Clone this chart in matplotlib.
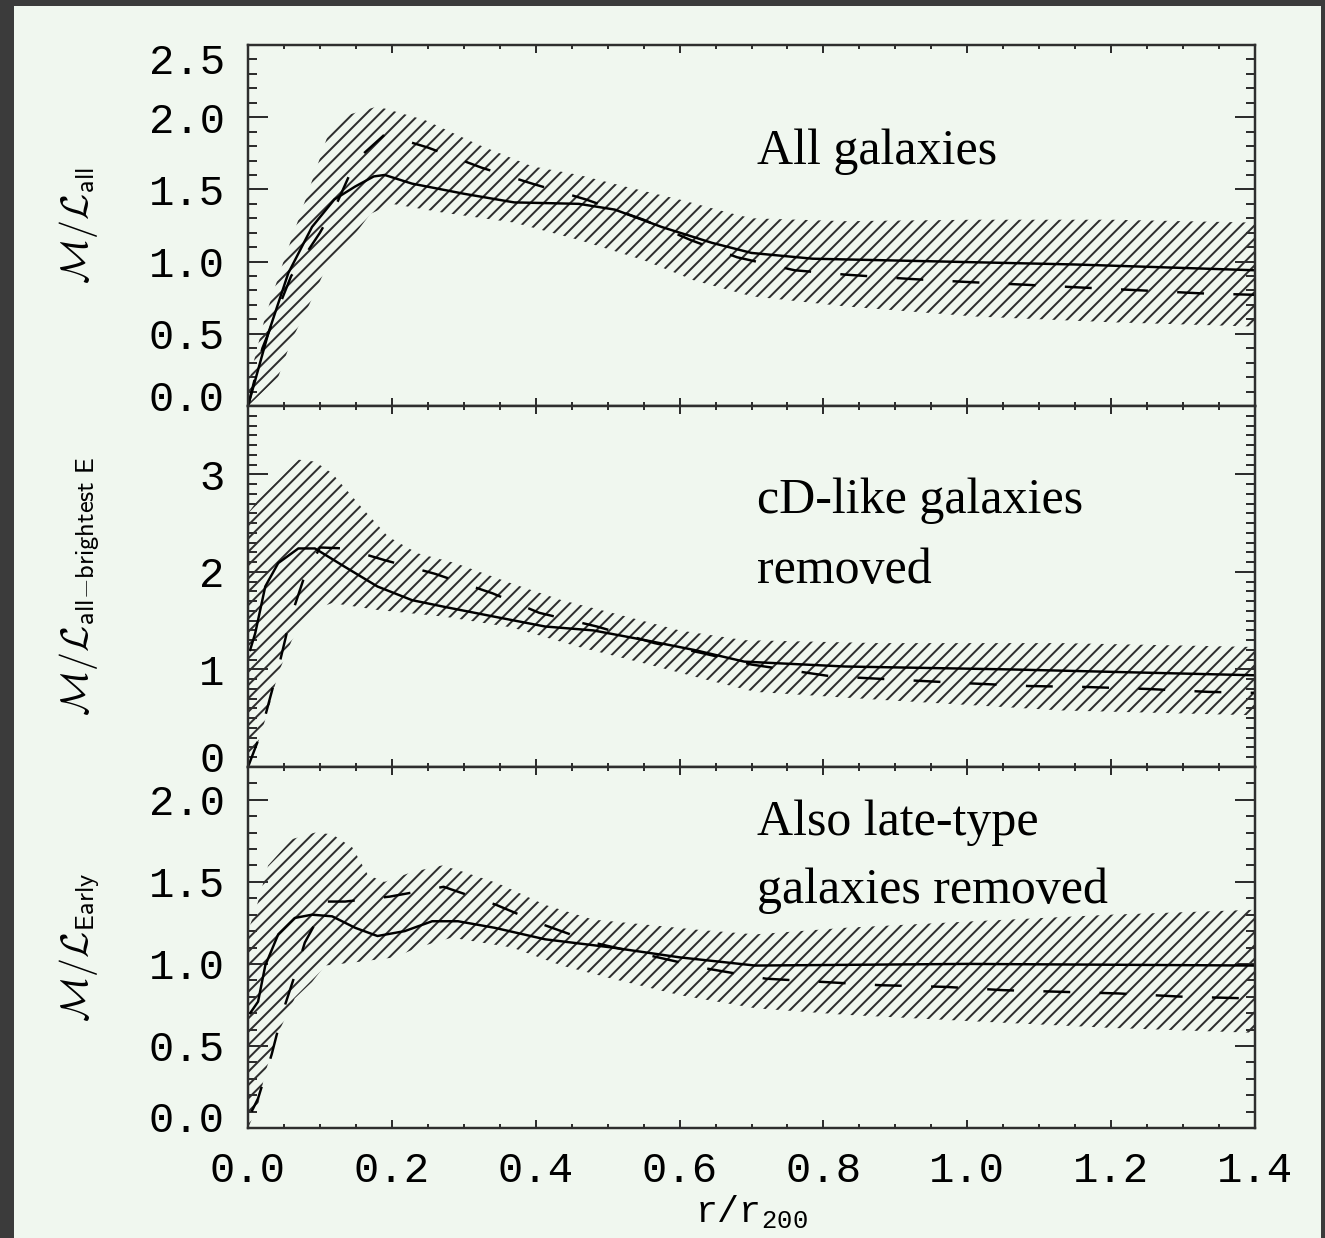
import numpy as np
import matplotlib.pyplot as plt
from matplotlib.patches import Rectangle
from matplotlib.ticker import MultipleLocator, FormatStrFormatter
from matplotlib.transforms import ScaledTranslation

# ---- panel 1: all galaxies ----
r_all_line = [0.0, 0.028, 0.056, 0.089, 0.12, 0.149, 0.175, 0.19, 0.228, 0.30, 0.37, 0.46,
              0.51, 0.575, 0.645, 0.70, 0.785, 0.97, 1.15, 1.4]
ml_all_line = [0.0, 0.50, 0.92, 1.24, 1.43, 1.52, 1.59, 1.60, 1.54, 1.47, 1.41, 1.40,
               1.36, 1.24, 1.13, 1.06, 1.02, 1.00, 0.98, 0.94]
r_all_bin = [0.0, 0.02, 0.06, 0.10, 0.125, 0.15, 0.19, 0.25, 0.325, 0.395, 0.47, 0.55,
             0.615, 0.68, 0.76, 0.83, 0.92, 0.995, 1.08, 1.16, 1.245, 1.325, 1.4]
ml_all_bin = [0.0, 0.40, 0.90, 1.20, 1.42, 1.70, 1.88, 1.79, 1.65, 1.54, 1.43, 1.29,
              1.15, 1.03, 0.94, 0.91, 0.88, 0.86, 0.84, 0.82, 0.80, 0.78, 0.77]
r_all_hi = [0.0, 0.024, 0.05, 0.08, 0.11, 0.135, 0.177, 0.19, 0.246, 0.32, 0.395, 0.46,
            0.524, 0.60, 0.667, 0.70, 0.83, 1.01, 1.2, 1.4]
ml_all_hi = [0.15, 0.62, 1.01, 1.43, 1.86, 2.01, 2.07, 2.06, 1.98, 1.81, 1.66, 1.60,
             1.52, 1.43, 1.34, 1.30, 1.28, 1.29, 1.29, 1.27]
r_all_lo = [0.0, 0.042, 0.06, 0.084, 0.107, 0.135, 0.17, 0.2, 0.27, 0.37, 0.46, 0.55,
            0.62, 0.70, 0.83, 1.01, 1.2, 1.4]
ml_all_lo = [0.0, 0.20, 0.45, 0.69, 0.94, 1.10, 1.33, 1.40, 1.34, 1.27, 1.15, 1.01,
             0.87, 0.76, 0.69, 0.62, 0.58, 0.55]

# ---- panel 2: cD-like galaxies removed ----
r_cd_line = [0.003, 0.01, 0.024, 0.042, 0.07, 0.093, 0.135, 0.18, 0.228, 0.274, 0.343,
             0.413, 0.48, 0.552, 0.62, 0.69, 0.83, 1.06, 1.4]
ml_cd_line = [1.20, 1.37, 1.85, 2.09, 2.24, 2.24, 2.05, 1.85, 1.71, 1.64, 1.54,
              1.44, 1.40, 1.30, 1.20, 1.08, 1.03, 1.00, 0.94]
r_cd_bin = [0.0, 0.017, 0.03, 0.045, 0.058, 0.077, 0.10, 0.135, 0.19, 0.26, 0.34, 0.405,
            0.485, 0.565, 0.63, 0.70, 0.81, 0.915, 0.995, 1.085, 1.165, 1.25, 1.335, 1.4]
ml_cd_bin = [0.0, 0.33, 0.69, 1.10, 1.50, 1.92, 2.25, 2.24, 2.12, 1.98, 1.78, 1.58,
             1.44, 1.27, 1.17, 1.05, 0.93, 0.89, 0.86, 0.83, 0.82, 0.80, 0.77, 0.76]
r_cd_hi = [0.0, 0.014, 0.042, 0.07, 0.093, 0.117, 0.158, 0.195, 0.236, 0.288, 0.367,
           0.436, 0.506, 0.60, 0.69, 0.876, 1.13, 1.4]
ml_cd_hi = [2.60, 2.74, 2.94, 3.15, 3.13, 3.01, 2.66, 2.36, 2.19, 2.09, 1.88,
            1.71, 1.58, 1.40, 1.30, 1.27, 1.27, 1.23]
r_cd_lo = [0.0, 0.014, 0.028, 0.042, 0.061, 0.089, 0.117, 0.18, 0.274, 0.367, 0.46,
           0.552, 0.645, 0.705, 0.876, 1.13, 1.4]
ml_cd_lo = [0.05, 0.25, 0.58, 0.96, 1.30, 1.61, 1.68, 1.61, 1.54, 1.43, 1.23,
            1.06, 0.88, 0.77, 0.69, 0.58, 0.53]

# ---- panel 3: also late-type galaxies removed ----
r_early_line = [0.003, 0.014, 0.024, 0.042, 0.065, 0.089, 0.117, 0.149, 0.18, 0.218,
                0.256, 0.292, 0.343, 0.413, 0.506, 0.60, 0.705, 1.0, 1.4]
ml_early_line = [0.70, 0.77, 0.99, 1.18, 1.28, 1.30, 1.29, 1.22, 1.17, 1.20,
                 1.26, 1.26, 1.22, 1.15, 1.10, 1.04, 0.99, 1.00, 0.99]
r_early_bin = [0.005, 0.014, 0.033, 0.047, 0.065, 0.079, 0.11, 0.135, 0.197, 0.272, 0.345,
               0.41, 0.48, 0.56, 0.64, 0.72, 0.80, 0.88, 0.97, 1.05, 1.13, 1.21, 1.30, 1.39]
ml_early_bin = [0.10, 0.18, 0.45, 0.69, 0.93, 1.13, 1.38, 1.38, 1.41, 1.47, 1.36,
                1.24, 1.13, 1.05, 0.97, 0.91, 0.89, 0.87, 0.86, 0.84, 0.83, 0.82, 0.80, 0.79]
r_early_hi = [0.0, 0.012, 0.028, 0.061, 0.093, 0.117, 0.145, 0.167, 0.19, 0.228, 0.27,
              0.30, 0.348, 0.413, 0.48, 0.552, 0.62, 0.705, 0.83, 1.01, 1.2, 1.4]
ml_early_hi = [1.20, 1.35, 1.60, 1.76, 1.80, 1.79, 1.71, 1.54, 1.50, 1.56, 1.60,
               1.56, 1.49, 1.36, 1.27, 1.24, 1.21, 1.18, 1.22, 1.26, 1.30, 1.33]
r_early_lo = [0.0, 0.014, 0.024, 0.042, 0.065, 0.089, 0.107, 0.149, 0.204, 0.236, 0.283,
              0.367, 0.436, 0.506, 0.60, 0.705, 0.83, 1.01, 1.2, 1.4]
ml_early_lo = [0.0, 0.14, 0.34, 0.58, 0.79, 0.89, 0.99, 1.01, 1.04, 1.10, 1.16,
               1.10, 0.99, 0.91, 0.81, 0.73, 0.69, 0.65, 0.61, 0.58]

ylabels = [r'$\mathcal{M}/\mathcal{L}_{\mathsf{all}}$',
           r'$\mathcal{M}/\mathcal{L}_{\mathsf{all{-}brightest\ E}}$',
           r'$\mathcal{M}/\mathcal{L}_{\mathsf{Early}}$']
notes = [['All galaxies'],
         ['cD-like galaxies', 'removed'],
         ['Also late-type', 'galaxies removed']]
note_y = [[1.676], [2.60, 1.885], [1.787, 1.372]]
ylims = [(0, 2.5), (0, 3.7), (0, 2.2)]
yticks = [[0, 0.5, 1.0, 1.5, 2.0, 2.5], [0, 1, 2, 3], [0, 0.5, 1.0, 1.5, 2.0]]
yfmt = ['%.1f', '%d', '%.1f']
xticks = [0.0, 0.2, 0.4, 0.6, 0.8, 1.0, 1.2, 1.4]

panels = [
    (r_all_line, ml_all_line, r_all_bin, ml_all_bin, r_all_hi, ml_all_hi, r_all_lo, ml_all_lo),
    (r_cd_line, ml_cd_line, r_cd_bin, ml_cd_bin, r_cd_hi, ml_cd_hi, r_cd_lo, ml_cd_lo),
    (r_early_line, ml_early_line, r_early_bin, ml_early_bin, r_early_hi, ml_early_hi,
     r_early_lo, ml_early_lo),
]

DPI = 80
bg = '#f0f7ef'
ink = '#2e2e2e'
plt.rcParams['hatch.linewidth'] = 1.8
plt.rcParams['mathtext.tt'] = 'Liberation Mono'

fig, axes = plt.subplots(3, 1, sharex=True, figsize=(1325 / DPI, 1238 / DPI), dpi=DPI,
                         facecolor='#3b3b3b')
fig.subplots_adjust(left=248 / 1325, right=1255 / 1325, bottom=1 - 1128 / 1238,
                    top=1 - 45 / 1238, hspace=0)
fig.add_artist(Rectangle((14 / 1325, 0), 1307 / 1325, 1232 / 1238, transform=fig.transFigure,
                         facecolor=bg, edgecolor='none', zorder=-10))

for i, ax in enumerate(axes):
    r_line, ml_line, r_bin, ml_bin, r_hi, ml_hi, r_lo, ml_lo = panels[i]
    ax.set_facecolor(bg)

    # hatched error band
    band_x = np.concatenate([r_hi, r_lo[::-1]])
    band_y = np.concatenate([ml_hi, ml_lo[::-1]])
    ax.fill(band_x, band_y, facecolor='none', edgecolor=ink, hatch='//', linewidth=0)

    ax.plot(r_line, ml_line, color='black', lw=2.2)
    ax.plot(r_bin, ml_bin, color='black', lw=2.2, linestyle=(0, (11, 12)))

    for s, yy in zip(notes[i], note_y[i]):
        ax.text(0.708, yy, s, fontsize=45, family='Liberation Serif', va='baseline',
                color='black')

    ax.text(-0.168, 0.5, ylabels[i], transform=ax.transAxes, rotation=90, ha='center',
            va='center', fontsize=34, math_fontfamily='cm', color='black')

    ax.set_xlim(0, 1.4)
    ax.set_ylim(*ylims[i])
    ax.set_yticks(yticks[i])
    ax.yaxis.set_major_formatter(FormatStrFormatter(yfmt[i]))
    ax.yaxis.set_minor_locator(MultipleLocator(0.1))
    ax.xaxis.set_minor_locator(MultipleLocator(0.05))

    for sp in ax.spines.values():
        sp.set_color(ink)
        sp.set_linewidth(2.2)
    ax.tick_params(axis='both', which='both', direction='in', top=True, right=True,
                   colors=ink, width=1.8, labelcolor='black')
    ax.tick_params(axis='y', which='major', length=18, pad=21)
    ax.tick_params(axis='y', which='minor', length=8)
    ax.tick_params(axis='x', which='major', length=7, pad=21)
    ax.tick_params(axis='x', which='minor', length=3.5)
    for lab in ax.get_yticklabels() + ax.get_xticklabels():
        lab.set_family('Liberation Mono')
        lab.set_fontsize(38)

axes[-1].set_xticks(xticks)
axes[-1].xaxis.set_major_formatter(FormatStrFormatter('%.1f'))
for lab in axes[-1].get_xticklabels():
    lab.set_family('Liberation Mono')
    lab.set_fontsize(38)
axes[-1].set_xlabel(r'r/r$_{\mathtt{200}}$', fontsize=33, family='Liberation Mono',
                    math_fontfamily='custom', labelpad=2)

# IDL-style: end labels pulled inward
for ax, up in zip(axes, [11, 10, 12]):
    t = ax.yaxis.get_major_ticks()
    t[0].label1.set_transform(t[0].label1.get_transform() +
                              ScaledTranslation(0, up / DPI, fig.dpi_scale_trans))
t = axes[0].yaxis.get_major_ticks()
t[-1].label1.set_transform(t[-1].label1.get_transform() +
                           ScaledTranslation(0, -13 / DPI, fig.dpi_scale_trans))

fig.savefig('out.png', dpi=DPI, facecolor=fig.get_facecolor())
